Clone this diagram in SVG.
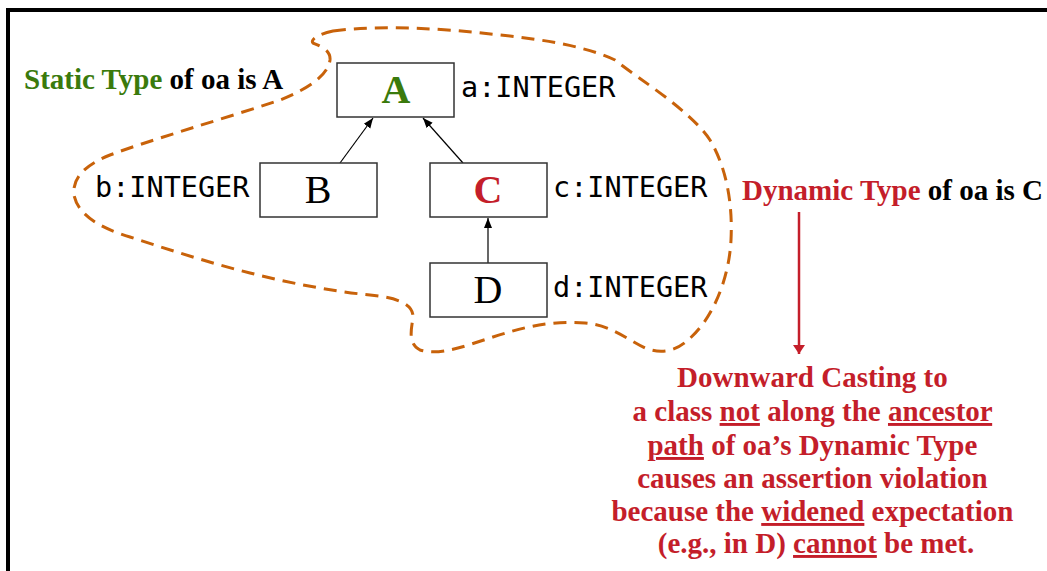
<svg xmlns="http://www.w3.org/2000/svg" width="1047" height="571" viewBox="0 0 1047 571">
<style>
.box{fill:#fff;stroke:#333;stroke-width:1.5}
.mono{font-family:"DejaVu Sans Mono",monospace;font-size:28.5px;fill:#000}
.serif{font-family:"Liberation Serif","Times New Roman",serif}
.bold{font-weight:bold}
.lbl{font-size:29px;font-weight:bold}
.cls{font-size:40px;text-anchor:middle}
.green{fill:#3a7a0c}
.red{fill:#c41e2a}
.conn{stroke:#000;stroke-width:1.2;fill:none}
</style>
<defs>
<marker id="ah" viewBox="0 0 10 10" refX="10" refY="5" markerWidth="10" markerHeight="10" markerUnits="userSpaceOnUse" orient="auto">
<path d="M0,1 L10,5 L0,9 Z" fill="#000"/>
</marker>
<marker id="rah" viewBox="0 0 12 16" refX="12" refY="8" markerWidth="16" markerHeight="12" markerUnits="userSpaceOnUse" orient="auto">
<path d="M0,0 L12,8 L0,16 Z" fill="#c41e2a"/>
</marker>
</defs>
<rect x="8" y="10" width="1100" height="620" fill="#fff" stroke="#000" stroke-width="4"/>
<path id="blob" d="M333,31 C380,25 440,28 500,35 C550,40 590,48 615,60 C640,80 690,110 710,140 C725,165 733,200 731,240 C729,280 712,320 688,340 C675,352 660,354 645,348 C625,338 610,325 585,323 C550,320 520,328 490,338 C465,346 440,356 420,350 C408,344 411,330 413,318 C414,305 400,298 370,295 C330,291 290,283 250,273 C210,263 170,250 130,237 C100,228 78,215 74,195 C72,178 85,165 110,155 C150,140 220,120 280,100 C310,88 328,75 330,60 C331,50 320,46 313,43 C310,40 318,34 333,31 Z" fill="none" stroke="#c8620a" stroke-width="3" stroke-dasharray="13,8"/>
<g id="connectors">
<line class="conn" x1="340" y1="163" x2="373" y2="118" marker-end="url(#ah)"/>
<line class="conn" x1="463" y1="163" x2="423" y2="118" marker-end="url(#ah)"/>
<line class="conn" x1="488" y1="263" x2="488" y2="218" marker-end="url(#ah)"/>
<line x1="799" y1="212" x2="799" y2="354" stroke="#c41e2a" stroke-width="2.5" marker-end="url(#rah)"/>
</g>
<g id="nodeA">
<rect class="box" x="337" y="63" width="117" height="54"/>
<text class="serif bold cls green" x="396" y="103">A</text>
<text class="mono" x="461" y="97">a:INTEGER</text>
</g>
<g id="nodeB">
<rect class="box" x="260" y="163" width="117" height="54"/>
<text class="serif cls" x="318" y="203">B</text>
<text class="mono" x="95" y="197">b:INTEGER</text>
</g>
<g id="nodeC">
<rect class="box" x="430" y="163" width="117" height="54"/>
<text class="serif bold cls red" x="488" y="203">C</text>
<text class="mono" x="553" y="197">c:INTEGER</text>
</g>
<g id="nodeD">
<rect class="box" x="430" y="263" width="117" height="54"/>
<text class="serif cls" x="488" y="303">D</text>
<text class="mono" x="553" y="297">d:INTEGER</text>
</g>
<g id="static-label">
<text class="serif lbl" x="24" y="89"><tspan class="green">Static Type</tspan> of oa is A</text>
</g>
<g id="dynamic-label">
<text class="serif lbl" x="742" y="200"><tspan class="red">Dynamic Type</tspan> of oa is C</text>
</g>
<g id="note">
<text class="serif lbl red" text-anchor="middle">
<tspan x="816" y="387">Downward Casting to</tspan>
<tspan x="816" y="421">a class <tspan text-decoration="underline">not</tspan> along the <tspan text-decoration="underline">ancestor</tspan></tspan>
<tspan x="816" y="455"><tspan text-decoration="underline">path</tspan> of oa’s Dynamic Type</tspan>
<tspan x="816" y="488">causes an assertion violation</tspan>
<tspan x="816" y="521">because the <tspan text-decoration="underline">widened</tspan> expectation</tspan>
<tspan x="816" y="553">(e.g., in D) <tspan text-decoration="underline">cannot</tspan> be met.</tspan>
</text>
</g>
</svg>
